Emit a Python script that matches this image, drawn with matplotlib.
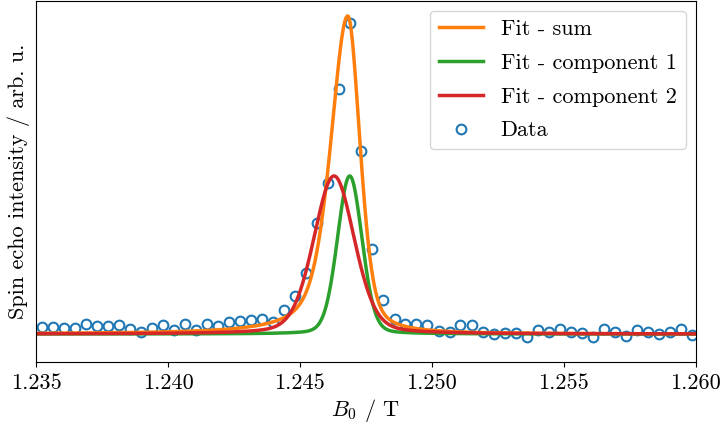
import numpy as np
import matplotlib
matplotlib.use("Agg")
import matplotlib.pyplot as plt

plt.rcParams.update({
    "font.family": "serif",
    "font.serif": ["cmr10"],
    "mathtext.fontset": "cm",
    "axes.formatter.use_mathtext": True,
    "font.size": 16,
})

# Measured spin echo intensity vs. magnetic field
field = [
    1.23522, 1.23564, 1.23605, 1.23647, 1.23689, 1.23731, 1.23773, 1.23814,
    1.23856, 1.23898, 1.23940, 1.23981, 1.24023, 1.24065, 1.24107, 1.24149,
    1.24190, 1.24232, 1.24274, 1.24316, 1.24357, 1.24399, 1.24441, 1.24483,
    1.24524, 1.24566, 1.24608, 1.24650, 1.24692, 1.24733, 1.24775, 1.24817,
    1.24859, 1.24900, 1.24942, 1.24984, 1.25026, 1.25068, 1.25109, 1.25151,
    1.25193, 1.25235, 1.25276, 1.25318, 1.25360, 1.25402, 1.25443, 1.25485,
    1.25527, 1.25569, 1.25611, 1.25652, 1.25694, 1.25736, 1.25778, 1.25819,
    1.25861, 1.25903, 1.25945, 1.25986,
]
intensity = [
    0.023, 0.023, 0.020, 0.020, 0.030, 0.024, 0.024, 0.028,
    0.016, 0.007, 0.020, 0.027, 0.012, 0.030, 0.014, 0.031,
    0.024, 0.037, 0.042, 0.045, 0.046, 0.039, 0.075, 0.118,
    0.193, 0.350, 0.476, 0.770, 0.978, 0.576, 0.266, 0.107,
    0.047, 0.031, 0.031, 0.027, 0.011, 0.007, 0.027, 0.027,
    0.007, 0.001, 0.004, 0.004, -0.008, 0.013, 0.007, 0.016,
    0.005, 0.003, -0.008, 0.017, 0.007, -0.007, 0.013, 0.006,
    -0.001, 0.006, 0.017, -0.002,
]

# Fit parameters: amplitude, centre (T), half width (T), Lorentzian fraction
comp1 = dict(amp=0.497, center=1.246892, hwhm=0.00055, eta=0.15)
comp2 = dict(amp=0.497, center=1.246297, hwhm=0.00091, eta=0.25)
# Fitted sum line (asymmetric: separate widths/fractions on each side)
total = dict(amp=1.0, center=1.246816,
             hwhm_lo=0.000773, eta_lo=0.55,
             hwhm_hi=0.000553, eta_hi=0.40)


def pseudo_voigt(x, amp, center, hwhm, eta):
    u = (x - center) / hwhm
    return amp * (eta / (1.0 + u ** 2) + (1.0 - eta) * np.exp(-np.log(2) * u ** 2))


def split_pseudo_voigt(x, amp, center, hwhm_lo, eta_lo, hwhm_hi, eta_hi):
    lo = pseudo_voigt(x, amp, center, hwhm_lo, eta_lo)
    hi = pseudo_voigt(x, amp, center, hwhm_hi, eta_hi)
    return np.where(x < center, lo, hi)


xs = np.linspace(1.235, 1.260, 2000)

fig = plt.figure(figsize=(7.22, 4.25), dpi=100)
ax = fig.add_axes([0.0499, 0.1489, 0.9134, 0.8499])

ax.plot(xs, split_pseudo_voigt(xs, **total), color="tab:orange", lw=2.5,
        label="Fit - sum")
ax.plot(xs, pseudo_voigt(xs, **comp1), color="tab:green", lw=2.5,
        label="Fit - component 1")
ax.plot(xs, pseudo_voigt(xs, **comp2), color="tab:red", lw=2.5,
        label="Fit - component 2")
ax.plot(field, intensity, "o", ms=7, mfc="none", mec="tab:blue", mew=1.5,
        label="Data", zorder=1.5)

ax.set_xlim(1.235, 1.260)
ax.set_ylim(-0.0871, 1.0487)
ax.set_xticks([1.235, 1.240, 1.245, 1.250, 1.255, 1.260])
ax.set_xticklabels(["1.235", "1.240", "1.245", "1.250", "1.255", "1.260"])
ax.tick_params(axis="x", pad=5)
ax.set_yticks([])
ax.set_xlabel(r"$B_0$ / T", labelpad=3)
ax.set_ylabel("Spin echo intensity / arb. u.")

ax.legend(loc="upper right", numpoints=1, labelspacing=0.64,
          borderaxespad=0.45)

fig.savefig("out.png", dpi=100)
